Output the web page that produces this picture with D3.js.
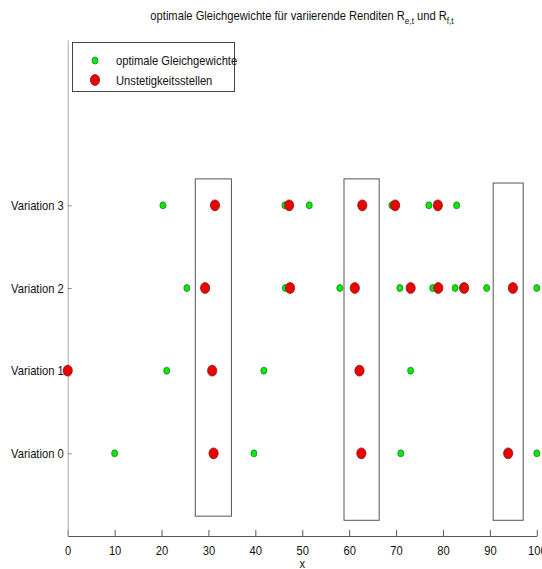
<!DOCTYPE html>
<html><head><meta charset="utf-8">
<script src="https://cdn.jsdelivr.net/npm/d3@7"></script>
<style>body{margin:0;background:#fff}svg{display:block}text{font-family:"Liberation Sans",Arial,sans-serif;fill:#111}</style>
</head><body><svg id="c" width="542" height="569"></svg>
<script>
const categories = ["Variation 0","Variation 1","Variation 2","Variation 3"];
const xTicks = [0,10,20,30,40,50,60,70,80,90,100];
// optimale Gleichgewichte (green) per variation
const eq0 = [10.0, 39.7, 71.0, 100];
const eq1 = [21.1, 41.8, 73.1];
const eq2 = [25.4, 46.4, 58.0, 70.8, 77.8, 82.6, 89.3, 100];
const eq3 = [20.3, 46.3, 51.5, 69.1, 77.0, 82.9];
// Unstetigkeitsstellen (red) per variation
const dis0 = [31.1, 62.6, 93.9];
const dis1 = [0, 30.8, 62.2];
const dis2 = [29.3, 47.4, 61.2, 73.1, 79.0, 84.5, 94.9];
const dis3 = [31.4, 47.2, 62.8, 69.8, 78.9];
// highlighted regions [x0, x1, y0, y1]
const boxX0 = [27.2, 58.9, 90.7];
const boxX1 = [34.9, 66.4, 97.1];
const boxY0 = [-0.76, -0.81, -0.81];
const boxY1 = [3.32, 3.32, 3.27];

const svg = d3.select("#c");
const x = d3.scaleLinear().domain([0,100]).range([67.7,536.8]);
const y = d3.scaleLinear().domain([-1,5]).range([536,40]);

// boxes
svg.append("g").selectAll("rect").data(boxX0).join("rect")
  .attr("x",(d,i)=>x(d)).attr("width",(d,i)=>x(boxX1[i])-x(d))
  .attr("y",(d,i)=>y(boxY1[i])).attr("height",(d,i)=>y(boxY0[i])-y(boxY1[i]))
  .attr("fill","none").attr("stroke","#555").attr("stroke-width",1);

// x axis
const xa = svg.append("g").attr("transform",`translate(0,${y(-1)})`)
  .call(d3.axisBottom(x).tickValues(xTicks).tickFormat(d3.format("d")).tickSizeInner(-6).tickSizeOuter(0).tickPadding(10));
xa.select(".domain").attr("stroke","#555");
xa.selectAll(".tick line").attr("stroke","#555");
xa.selectAll("text").attr("class","sq").attr("font-size",13).attr("font-family",null);

// y axis
const ya = svg.append("g").attr("transform",`translate(${x(0)},0)`)
  .call(d3.axisLeft(y).tickValues([0,1,2,3]).tickFormat(d=>categories[d]).tickSizeInner(-4).tickSizeOuter(0).tickPadding(4));
ya.select(".domain").attr("stroke","#aaa");
ya.selectAll(".tick line").attr("stroke","#888");
ya.selectAll("text").attr("class","sq").attr("font-size",13).attr("font-family",null);

const eqs=[eq0,eq1,eq2,eq3], dis=[dis0,dis1,dis2,dis3];
const gData = eqs.flatMap((a,i)=>a.map(v=>({v,i})));
const rData = dis.flatMap((a,i)=>a.map(v=>({v,i})));
svg.append("g").selectAll("ellipse").data(gData).join("ellipse")
  .attr("cx",d=>x(d.v)).attr("cy",d=>y(d.i)).attr("rx",3).attr("ry",3.5)
  .attr("fill","#00ee00").attr("stroke","#2a7a2a").attr("stroke-width",0.8);
svg.append("g").selectAll("ellipse").data(rData).join("ellipse")
  .attr("cx",d=>x(d.v)).attr("cy",d=>y(d.i)).attr("rx",4.6).attr("ry",5.4)
  .attr("fill","#ee0000").attr("stroke","#7a1a1a").attr("stroke-width",0.8);

// title (condensed via group scale)
const tg = svg.append("g").attr("transform","translate(302,20) scale(0.86,1)");
const t = tg.append("text").attr("x",0).attr("y",0).attr("text-anchor","middle").attr("font-size",13);
t.append("tspan").text("optimale Gleichgewichte für variierende Renditen R");
t.append("tspan").text("e,t").attr("font-size",9.5).attr("dy",4);
t.append("tspan").text(" und R").attr("dy",-4);
t.append("tspan").text("f,t").attr("font-size",9.5).attr("dy",4);

// x label
svg.append("text").attr("class","sq").attr("x",x(50)).attr("y",568).attr("text-anchor","middle").attr("font-size",13).text("x");

// legend
const lg = svg.append("g");
lg.append("rect").attr("x",72.5).attr("y",42.5).attr("width",162).attr("height",49).attr("fill","#fff").attr("stroke","#444");
lg.append("ellipse").attr("cx",95).attr("cy",60.5).attr("rx",3).attr("ry",3.5).attr("fill","#00ee00").attr("stroke","#2a7a2a").attr("stroke-width",0.8);
lg.append("ellipse").attr("cx",95).attr("cy",80).attr("rx",4.6).attr("ry",5.4).attr("fill","#ee0000").attr("stroke","#7a1a1a").attr("stroke-width",0.8);
lg.append("text").attr("class","sq").attr("x",116).attr("y",65).attr("font-size",13).text("optimale Gleichgewichte");
lg.append("text").attr("class","sq").attr("x",116).attr("y",84.5).attr("font-size",13).text("Unstetigkeitsstellen");

// horizontal condensing of plain texts (reference font is narrow)
svg.selectAll("text.sq").each(function(){
  const w = this.getComputedTextLength();
  if (w > 0) d3.select(this).attr("textLength", w*0.86).attr("lengthAdjust","spacingAndGlyphs");
});
</script></body></html>
